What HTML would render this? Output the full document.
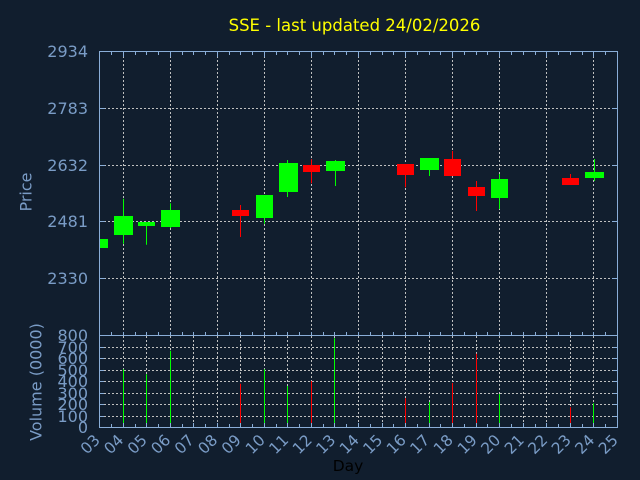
<!DOCTYPE html>
<html><head><meta charset="utf-8"><style>
html,body{margin:0;padding:0;background:#111e2e;}
svg{display:block;}
text{font-family:"DejaVu Sans","Liberation Sans",sans-serif;}
</style></head><body>
<svg width="640" height="480" viewBox="0 0 640 480" xmlns="http://www.w3.org/2000/svg">
<rect x="0" y="0" width="640" height="480" fill="#111e2e"/>
<text x="354.5" y="31" font-size="16.5" fill="#ffff00" text-anchor="middle">SSE - last updated 24/02/2026</text>

<!-- price grid -->
<g stroke="#c0c0c0" stroke-width="1" stroke-dasharray="2,2" fill="none">
<line x1="100" y1="108.5" x2="617" y2="108.5"/>
<line x1="100" y1="165.5" x2="617" y2="165.5"/>
<line x1="100" y1="221.5" x2="617" y2="221.5"/>
<line x1="100" y1="278.5" x2="617" y2="278.5"/>
<line x1="123.5" y1="52" x2="123.5" y2="335"/>
<line x1="170.5" y1="52" x2="170.5" y2="335"/>
<line x1="217.5" y1="52" x2="217.5" y2="335"/>
<line x1="264.5" y1="52" x2="264.5" y2="335"/>
<line x1="311.5" y1="52" x2="311.5" y2="335"/>
<line x1="358.5" y1="52" x2="358.5" y2="335"/>
<line x1="405.5" y1="52" x2="405.5" y2="335"/>
<line x1="452.5" y1="52" x2="452.5" y2="335"/>
<line x1="499.5" y1="52" x2="499.5" y2="335"/>
<line x1="546.5" y1="52" x2="546.5" y2="335"/>
<line x1="593.5" y1="52" x2="593.5" y2="335"/>
</g>
<!-- volume grid -->
<g stroke="#c0c0c0" stroke-width="1" stroke-dasharray="2,2" fill="none">
<line x1="100" y1="416.5" x2="617" y2="416.5"/>
<line x1="100" y1="404.5" x2="617" y2="404.5"/>
<line x1="100" y1="393.5" x2="617" y2="393.5"/>
<line x1="100" y1="381.5" x2="617" y2="381.5"/>
<line x1="100" y1="370.5" x2="617" y2="370.5"/>
<line x1="100" y1="358.5" x2="617" y2="358.5"/>
<line x1="100" y1="347.5" x2="617" y2="347.5"/>
<line x1="123.5" y1="336" x2="123.5" y2="427"/>
<line x1="146.5" y1="336" x2="146.5" y2="427"/>
<line x1="170.5" y1="336" x2="170.5" y2="427"/>
<line x1="193.5" y1="336" x2="193.5" y2="427"/>
<line x1="217.5" y1="336" x2="217.5" y2="427"/>
<line x1="240.5" y1="336" x2="240.5" y2="427"/>
<line x1="264.5" y1="336" x2="264.5" y2="427"/>
<line x1="287.5" y1="336" x2="287.5" y2="427"/>
<line x1="311.5" y1="336" x2="311.5" y2="427"/>
<line x1="334.5" y1="336" x2="334.5" y2="427"/>
<line x1="358.5" y1="336" x2="358.5" y2="427"/>
<line x1="382.5" y1="336" x2="382.5" y2="427"/>
<line x1="405.5" y1="336" x2="405.5" y2="427"/>
<line x1="429.5" y1="336" x2="429.5" y2="427"/>
<line x1="452.5" y1="336" x2="452.5" y2="427"/>
<line x1="476.5" y1="336" x2="476.5" y2="427"/>
<line x1="499.5" y1="336" x2="499.5" y2="427"/>
<line x1="523.5" y1="336" x2="523.5" y2="427"/>
<line x1="546.5" y1="336" x2="546.5" y2="427"/>
<line x1="570.5" y1="336" x2="570.5" y2="427"/>
<line x1="593.5" y1="336" x2="593.5" y2="427"/>
</g>

<!-- candles -->
<g stroke-width="1">
<rect x="100" y="239" width="8" height="9" fill="#00ff00"/>
<line x1="123.5" y1="198.7" x2="123.5" y2="243.7" stroke="#00ff00"/><rect x="114" y="216" width="19" height="19" fill="#00ff00"/>
<line x1="146.5" y1="222" x2="146.5" y2="244.7" stroke="#00ff00"/><rect x="138" y="222" width="17" height="4" fill="#00ff00"/>
<line x1="170.5" y1="203.3" x2="170.5" y2="228" stroke="#00ff00"/><rect x="161" y="210" width="19" height="17" fill="#00ff00"/>
<line x1="240.5" y1="205" x2="240.5" y2="237" stroke="#ff0000"/><rect x="232" y="210" width="17" height="6" fill="#ff0000"/>
<line x1="264.5" y1="195" x2="264.5" y2="223.7" stroke="#00ff00"/><rect x="256" y="195" width="17" height="23" fill="#00ff00"/>
<line x1="287.5" y1="160" x2="287.5" y2="197" stroke="#00ff00"/><rect x="279" y="163" width="19" height="29" fill="#00ff00"/>
<line x1="311.5" y1="159.3" x2="311.5" y2="183.3" stroke="#ff0000"/><rect x="303" y="165" width="17" height="7" fill="#ff0000"/>
<line x1="335.5" y1="160" x2="335.5" y2="186" stroke="#00ff00"/><rect x="326" y="161" width="19" height="10" fill="#00ff00"/>
<line x1="405.5" y1="164" x2="405.5" y2="187.3" stroke="#ff0000"/><rect x="397" y="164" width="17" height="11" fill="#ff0000"/>
<line x1="429.5" y1="158" x2="429.5" y2="176" stroke="#00ff00"/><rect x="420" y="158" width="19" height="12" fill="#00ff00"/>
<line x1="452.5" y1="151" x2="452.5" y2="176" stroke="#ff0000"/><rect x="444" y="159" width="17" height="17" fill="#ff0000"/>
<line x1="476.5" y1="181" x2="476.5" y2="211" stroke="#ff0000"/><rect x="468" y="187" width="17" height="9" fill="#ff0000"/>
<line x1="499.5" y1="174" x2="499.5" y2="209" stroke="#00ff00"/><rect x="491" y="179" width="17" height="19" fill="#00ff00"/>
<line x1="570.5" y1="174" x2="570.5" y2="185" stroke="#ff0000"/><rect x="562" y="178" width="17" height="7" fill="#ff0000"/>
<line x1="594.5" y1="159" x2="594.5" y2="181" stroke="#00ff00"/><rect x="585" y="172" width="19" height="6" fill="#00ff00"/>
</g>

<!-- volume bars -->
<g stroke-width="1">
<line x1="123.5" y1="369.3" x2="123.5" y2="427" stroke="#00ff00"/>
<line x1="146.5" y1="374.3" x2="146.5" y2="427" stroke="#00ff00"/>
<line x1="170.5" y1="350.7" x2="170.5" y2="427" stroke="#00ff00"/>
<line x1="240.5" y1="383.7" x2="240.5" y2="427" stroke="#ff0000"/>
<line x1="264.5" y1="369.3" x2="264.5" y2="427" stroke="#00ff00"/>
<line x1="287.5" y1="386" x2="287.5" y2="427" stroke="#00ff00"/>
<line x1="311.5" y1="381" x2="311.5" y2="427" stroke="#ff0000"/>
<line x1="334.5" y1="338.3" x2="334.5" y2="427" stroke="#00ff00"/>
<line x1="405.5" y1="398.3" x2="405.5" y2="427" stroke="#ff0000"/>
<line x1="429.5" y1="402" x2="429.5" y2="427" stroke="#00ff00"/>
<line x1="452.5" y1="383" x2="452.5" y2="427" stroke="#ff0000"/>
<line x1="476.5" y1="353.7" x2="476.5" y2="427" stroke="#ff0000"/>
<line x1="499.5" y1="394" x2="499.5" y2="427" stroke="#00ff00"/>
<line x1="570.5" y1="407.3" x2="570.5" y2="427" stroke="#ff0000"/>
<line x1="593.5" y1="403.3" x2="593.5" y2="427" stroke="#00ff00"/>
</g>

<!-- axes -->
<g stroke="#8aaed8" stroke-width="1" fill="none">
<rect x="99.5" y="51.5" width="518" height="376"/>
<line x1="99.5" y1="335.5" x2="617.5" y2="335.5"/>
<path d="M100 108.5h5M100 165.5h5M100 221.5h5M100 278.5h5M617 108.5h-5M617 165.5h-5M617 221.5h-5M617 278.5h-5"/>
<path d="M100 416.5h4M100 404.5h4M100 393.5h4M100 381.5h4M100 370.5h4M100 358.5h4M100 347.5h4M617 416.5h-4M617 404.5h-4M617 393.5h-4M617 381.5h-4M617 370.5h-4M617 358.5h-4M617 347.5h-4"/>
<path d="M111.5 52v3M123.5 52v5M135.5 52v3M146.5 52v3M158.5 52v3M170.5 52v5M182.5 52v3M193.5 52v3M205.5 52v3M217.5 52v5M229.5 52v3M240.5 52v3M252.5 52v3M264.5 52v5M276.5 52v3M287.5 52v3M299.5 52v3M311.5 52v5M323.5 52v3M334.5 52v3M346.5 52v3M358.5 52v5M370.5 52v3M382.5 52v3M393.5 52v3M405.5 52v5M417.5 52v3M429.5 52v3M440.5 52v3M452.5 52v5M464.5 52v3M476.5 52v3M487.5 52v3M499.5 52v5M511.5 52v3M523.5 52v3M535.5 52v3M546.5 52v5M558.5 52v3M570.5 52v3M582.5 52v3M593.5 52v5M605.5 52v3"/>
<path d="M111.5 335v-3M123.5 335v-3M135.5 335v-3M146.5 335v-3M158.5 335v-3M170.5 335v-3M182.5 335v-3M193.5 335v-3M205.5 335v-3M217.5 335v-3M229.5 335v-3M240.5 335v-3M252.5 335v-3M264.5 335v-3M276.5 335v-3M287.5 335v-3M299.5 335v-3M311.5 335v-3M323.5 335v-3M334.5 335v-3M346.5 335v-3M358.5 335v-3M370.5 335v-3M382.5 335v-3M393.5 335v-3M405.5 335v-3M417.5 335v-3M429.5 335v-3M440.5 335v-3M452.5 335v-3M464.5 335v-3M476.5 335v-3M487.5 335v-3M499.5 335v-3M511.5 335v-3M523.5 335v-3M535.5 335v-3M546.5 335v-3M558.5 335v-3M570.5 335v-3M582.5 335v-3M593.5 335v-3M605.5 335v-3"/>
<path d="M111.5 427v-3M123.5 427v-4M135.5 427v-3M146.5 427v-4M158.5 427v-3M170.5 427v-4M182.5 427v-3M193.5 427v-4M205.5 427v-3M217.5 427v-4M229.5 427v-3M240.5 427v-4M252.5 427v-3M264.5 427v-4M276.5 427v-3M287.5 427v-4M299.5 427v-3M311.5 427v-4M323.5 427v-3M334.5 427v-4M346.5 427v-3M358.5 427v-4M370.5 427v-3M382.5 427v-4M393.5 427v-3M405.5 427v-4M417.5 427v-3M429.5 427v-4M440.5 427v-3M452.5 427v-4M464.5 427v-3M476.5 427v-4M487.5 427v-3M499.5 427v-4M511.5 427v-3M523.5 427v-4M535.5 427v-3M546.5 427v-4M558.5 427v-3M570.5 427v-4M582.5 427v-3M593.5 427v-4M605.5 427v-3"/>
</g>

<!-- y labels -->
<g font-size="16" fill="#7a9cc6" text-anchor="end">
<text x="88" y="57">2934</text>
<text x="88" y="114">2783</text>
<text x="88" y="171">2632</text>
<text x="88" y="227">2481</text>
<text x="88" y="284">2330</text>
<text x="88" y="341">800</text>
<text x="88" y="353">700</text>
<text x="88" y="364">600</text>
<text x="88" y="376">500</text>
<text x="88" y="387">400</text>
<text x="88" y="399">300</text>
<text x="88" y="410">200</text>
<text x="88" y="422">100</text>
<text x="88" y="433">0</text>
</g>

<text transform="translate(31.5,192) rotate(-90)" font-size="16" fill="#7a9cc6" text-anchor="middle">Price</text>
<text transform="translate(41.5,382) rotate(-90)" font-size="16" fill="#7a9cc6" text-anchor="middle">Volume (0000)</text>

<!-- x labels -->
<g font-size="15.5" fill="#7a9cc6" text-anchor="end">
<text transform="translate(101,441) rotate(-45)">03</text>
<text transform="translate(124.5,441) rotate(-45)">04</text>
<text transform="translate(148,441) rotate(-45)">05</text>
<text transform="translate(171.5,441) rotate(-45)">06</text>
<text transform="translate(195,441) rotate(-45)">07</text>
<text transform="translate(218.5,441) rotate(-45)">08</text>
<text transform="translate(242,441) rotate(-45)">09</text>
<text transform="translate(266,441) rotate(-45)">10</text>
<text transform="translate(289.5,441) rotate(-45)">11</text>
<text transform="translate(313,441) rotate(-45)">12</text>
<text transform="translate(336.5,441) rotate(-45)">13</text>
<text transform="translate(360,441) rotate(-45)">14</text>
<text transform="translate(383.5,441) rotate(-45)">15</text>
<text transform="translate(407,441) rotate(-45)">16</text>
<text transform="translate(430.5,441) rotate(-45)">17</text>
<text transform="translate(454,441) rotate(-45)">18</text>
<text transform="translate(478,441) rotate(-45)">19</text>
<text transform="translate(501.5,441) rotate(-45)">20</text>
<text transform="translate(525,441) rotate(-45)">21</text>
<text transform="translate(548.5,441) rotate(-45)">22</text>
<text transform="translate(572,441) rotate(-45)">23</text>
<text transform="translate(595.5,441) rotate(-45)">24</text>
<text transform="translate(619,441) rotate(-45)">25</text>
</g>

<text x="348" y="471" font-size="15.5" fill="#000000" text-anchor="middle">Day</text>
</svg>
</body></html>
